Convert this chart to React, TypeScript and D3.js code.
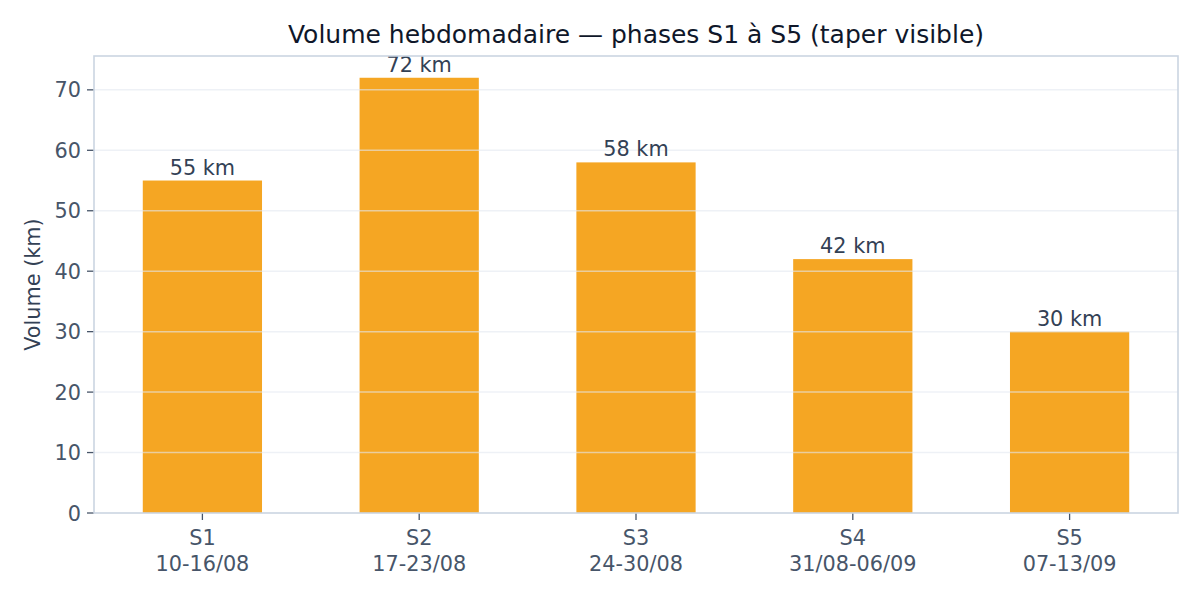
import * as d3 from 'd3';

const WEEKS = ['S1', 'S2', 'S3', 'S4', 'S5'];
const DATES = ['10-16/08', '17-23/08', '24-30/08', '31/08-06/09', '07-13/09'];
const VOLUMES = [55, 72, 58, 42, 30];
const Y_TICKS = [0, 10, 20, 30, 40, 50, 60, 70];

const W = 1200;
const H = 600;
const M = { top: 56, right: 22, bottom: 87, left: 94 };
const FONT = '"DejaVu Sans", sans-serif';
const FS = 20.8;

export default function App() {
  const innerW = W - M.left - M.right;
  const innerH = H - M.top - M.bottom;

  // matplotlib-like layout: category slots from -0.5 to n-0.5, bar width 0.55
  const x = d3.scaleLinear().domain([-0.5, WEEKS.length - 0.5]).range([0, innerW]);
  const yMax = (d3.max(VOLUMES) ?? 1) * 1.05;
  const y = d3.scaleLinear().domain([0, yMax]).range([innerH, 0]);
  const barW = x(0.55) - x(0);

  return (
    <div style={{ position: 'absolute', left: 0, top: 0 }}>
      <svg width={W} height={H} style={{ display: 'block', background: '#fff' }} fontFamily={FONT}>
        <text x={M.left + innerW / 2} y={43} textAnchor="middle" fontSize={25} fill="#0f172a">
          Volume hebdomadaire — phases S1 à S5 (taper visible)
        </text>

        <g transform={`translate(${M.left},${M.top})`}>
          {VOLUMES.map((v, i) => (
            <rect key={WEEKS[i]} x={x(i) - barW / 2} y={y(v)} width={barW} height={innerH - y(v)} fill="#f5a623" />
          ))}

          {/* grid drawn above the bars */}
          {Y_TICKS.filter(t => t > 0).map(t => (
            <line key={t} x1={0} x2={innerW} y1={y(t)} y2={y(t)} stroke="#e2e8f0" strokeOpacity={0.6} strokeWidth={1.5} />
          ))}

          {VOLUMES.map((v, i) => (
            <text key={WEEKS[i]} x={x(i)} y={y(v) - 6} textAnchor="middle" fontSize={FS} fill="#334155">
              {`${v} km`}
            </text>
          ))}

          {/* y axis ticks */}
          {Y_TICKS.map(t => (
            <g key={t} transform={`translate(0,${y(t)})`}>
              <line x1={-7} x2={0} stroke="#475569" strokeWidth={1.3} />
              <text x={-13} dy="0.36em" textAnchor="end" fontSize={FS} fill="#475569">{t}</text>
            </g>
          ))}

          {/* x axis ticks */}
          {WEEKS.map((w, i) => (
            <g key={w} transform={`translate(${x(i)},${innerH})`}>
              <line y1={0} y2={7} stroke="#475569" strokeWidth={1.3} />
              <text y={32} textAnchor="middle" fontSize={FS} fill="#475569">{w}</text>
              <text y={58} textAnchor="middle" fontSize={FS} fill="#475569">{DATES[i]}</text>
            </g>
          ))}

          <rect x={0} y={0} width={innerW} height={innerH} fill="none" stroke="#cbd5e1" strokeWidth={1.6} />
        </g>

        <text transform={`translate(40,${M.top + innerH / 2}) rotate(-90)`} textAnchor="middle" fontSize={FS} fill="#334155">
          Volume (km)
        </text>
      </svg>
    </div>
  );
}
